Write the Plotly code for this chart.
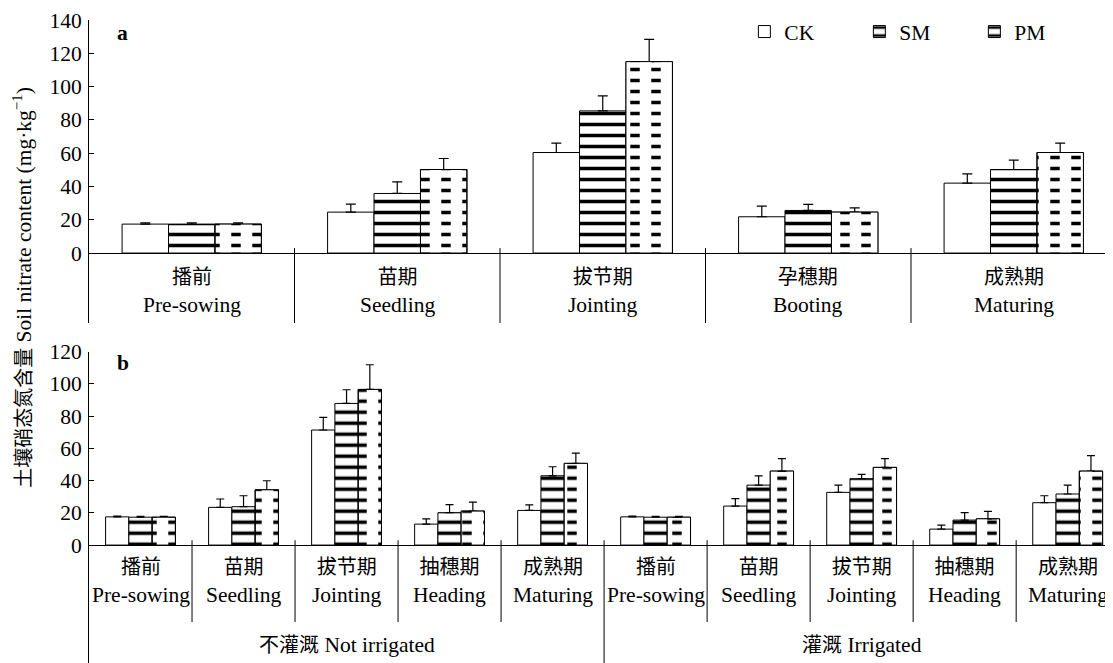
import plotly.graph_objects as go

# ---------------- data ----------------
stages_a_cn = ["播前", "苗期", "拔节期", "孕穗期", "成熟期"]
stages_a_en = ["Pre-sowing", "Seedling", "Jointing", "Booting", "Maturing"]
ck_a = [17.4, 24.6, 60.4, 21.8, 42.0]
ck_a_err = [0.8, 4.8, 5.6, 6.4, 5.6]
sm_a = [17.4, 35.8, 85.4, 25.6, 50.2]
sm_a_err = [0.8, 7.0, 9.0, 3.6, 5.6]
pm_a = [17.4, 50.2, 115.0, 24.6, 60.4]
pm_a_err = [0.8, 6.6, 13.4, 2.6, 5.6]

stages_b_cn = ["播前", "苗期", "拔节期", "抽穗期", "成熟期"] * 2
stages_b_en = ["Pre-sowing", "Seedling", "Jointing", "Heading", "Maturing"] * 2
ck_b = [17.5, 23.4, 71.4, 13.0, 21.5, 17.5, 24.2, 32.7, 9.9, 26.3]
ck_b_err = [0.5, 5.2, 7.8, 3.3, 3.5, 0.5, 4.6, 4.5, 2.5, 4.3]
sm_b = [17.3, 23.8, 87.9, 20.1, 43.0, 17.3, 37.2, 41.2, 15.5, 31.7]
sm_b_err = [0.5, 6.8, 8.5, 5.0, 5.6, 0.5, 5.8, 2.7, 4.6, 5.5]
pm_b = [17.3, 34.3, 96.6, 21.1, 50.7, 17.3, 45.9, 48.2, 16.3, 45.9]
pm_b_err = [0.5, 5.6, 15.3, 5.6, 6.4, 0.5, 7.7, 5.4, 4.6, 9.6]
groups_cn = ["不灌溉", "灌溉"]
groups_en = ["Not irrigated", "Irrigated"]
treatments = ["CK", "SM", "PM"]

FONT = "Liberation Serif, Times New Roman, Noto Sans CJK SC"
FS = 21.5      # latin text size
FS_CJK = 20    # chinese text size
BW = 0.226
OFFS = [-1.5 * BW, -0.5 * BW, 0.5 * BW]


def cjk(s):
    return f"<span style='font-size:{FS_CJK}px'>{s}</span>"


fig = go.Figure()


def add_panel(xa, ya, ck, cke, sm, sme, pm, pme, capw, showlegend):
    xs = list(range(len(ck)))
    line = dict(color="black", width=1)

    def err(e):
        return dict(type="data", array=e, arrayminus=[0] * len(e), symmetric=False,
                    color="black", thickness=1.2, width=capw)

    hline = dict(shape="-", fgcolor="#000000", bgcolor="white", size=11, solidity=0.32,
                 fgopacity=1)
    fig.add_trace(go.Bar(x=xs, y=ck, name=treatments[0], xaxis=xa, yaxis=ya,
                         width=BW, offset=OFFS[0], showlegend=showlegend, legendgroup="CK",
                         marker=dict(color="white", line=line),
                         error_y=err(cke)))
    fig.add_trace(go.Bar(x=xs, y=sm, name=treatments[1], xaxis=xa, yaxis=ya,
                         width=BW, offset=OFFS[1], showlegend=showlegend, legendgroup="SM",
                         marker=dict(color="white", line=line, pattern=hline),
                         error_y=err(sme)))
    fig.add_trace(go.Bar(x=xs, y=pm, name=treatments[2], xaxis=xa, yaxis=ya,
                         width=BW, offset=OFFS[2], showlegend=showlegend, legendgroup="PM",
                         marker=dict(color="white", line=line, pattern=hline),
                         error_y=err(pme)))
    # white vertical stripes to break PM lines into dashes
    fig.add_trace(go.Bar(x=xs, y=pm, xaxis=xa, yaxis=ya, showlegend=False,
                         width=BW, offset=OFFS[2], hoverinfo="skip",
                         marker=dict(color="rgba(0,0,0,0)", line=line,
                                     pattern=dict(shape="|", fgcolor="#ffffff",
                                                  bgcolor="rgba(0,0,0,0)",
                                                  size=21, solidity=0.55, fgopacity=1))))


add_panel("x", "y", ck_a, ck_a_err, sm_a, sm_a_err, pm_a, pm_a_err, 5, True)
add_panel("x2", "y2", ck_b, ck_b_err, sm_b, sm_b_err, pm_b, pm_b_err, 4, False)

YA_MIN = -42
YB_MIN = -73.2

shapes = []
for k in range(len(stages_a_cn) - 1):
    shapes.append(dict(type="line", xref="x", yref="y", x0=k + 0.5, x1=k + 0.5,
                       y0=3, y1=YA_MIN, line=dict(color="black", width=1)))
for k in range(len(stages_b_cn) - 1):
    bottom = YB_MIN if k == 4 else -47.8
    shapes.append(dict(type="line", xref="x2", yref="y2", x0=k + 0.5, x1=k + 0.5,
                       y0=3, y1=bottom, line=dict(color="black", width=1)))

tfont = dict(family=FONT, size=FS, color="black")
annotations = []
for i, (cn, en) in enumerate(zip(stages_a_cn, stages_a_en)):
    annotations.append(dict(xref="x", yref="y", x=i, y=-23.3, text=f"{cjk(cn)}<br>{en}",
                            showarrow=False, font=tfont, yanchor="middle"))
for i, (cn, en) in enumerate(zip(stages_b_cn, stages_b_en)):
    annotations.append(dict(xref="x2", yref="y2", x=i, y=-22.8, text=f"{cjk(cn)}<br>{en}",
                            showarrow=False, font=tfont, yanchor="middle"))
for gc, ge, gx in zip(groups_cn, groups_en, [2, 7]):
    annotations.append(dict(xref="x2", yref="y2", x=gx, y=-62, text=f"{cjk(gc)} {ge}",
                            showarrow=False, font=tfont, yanchor="middle"))
annotations.append(dict(xref="x", yref="y", x=-0.335, y=132, text="<b>a</b>", showarrow=False,
                        font=tfont, xanchor="center", yanchor="middle"))
annotations.append(dict(xref="x2", yref="y2", x=-0.17, y=113, text="<b>b</b>", showarrow=False,
                        font=tfont, xanchor="center", yanchor="middle"))
annotations.append(dict(xref="paper", yref="paper", x=-0.0645, y=0.585,
                        xanchor="center", yanchor="middle",
                        text=cjk("土壤硝态氮含量") + " Soil nitrate content (mg·kg<sup>−1</sup>)",
                        textangle=-90, showarrow=False, font=tfont))

xcommon = dict(showline=False, showticklabels=False, ticks="", showgrid=False, zeroline=False,
               automargin=False)
ycommon = dict(showline=True, linecolor="black", linewidth=1, ticks="inside", ticklen=5,
               tickcolor="black", showgrid=False, zeroline=True, zerolinecolor="black",
               zerolinewidth=1, tickfont=tfont, ticklabelstandoff=2, automargin=False)

# the page body has an 8px margin, so the figure is 8px smaller and margins 8px less
fig.update_layout(
    width=1105, height=655,
    margin=dict(l=81, r=0, t=12, b=0),
    paper_bgcolor="white", plot_bgcolor="white",
    barmode="overlay",
    font=tfont,
    xaxis=dict(domain=[0, 1], range=[-0.5, 4.483], anchor="y", **xcommon),
    yaxis=dict(domain=[0.5288, 1], range=[YA_MIN, 140], tickvals=list(range(0, 141, 20)),
               anchor="x", **ycommon),
    xaxis2=dict(domain=[0, 1], range=[-0.5, 9.44], anchor="y2", **xcommon),
    yaxis2=dict(domain=[0, 0.4841], range=[YB_MIN, 120], tickvals=list(range(0, 121, 20)),
                anchor="x2", **ycommon),
    legend=dict(orientation="h", x=0.64, y=0.982, xanchor="left", yanchor="middle",
                entrywidth=70, entrywidthmode="pixels", bgcolor="rgba(0,0,0,0)",
                font=tfont, itemwidth=30),
    shapes=shapes,
    annotations=annotations,
    showlegend=True,
)

fig.write_html("out.html")
